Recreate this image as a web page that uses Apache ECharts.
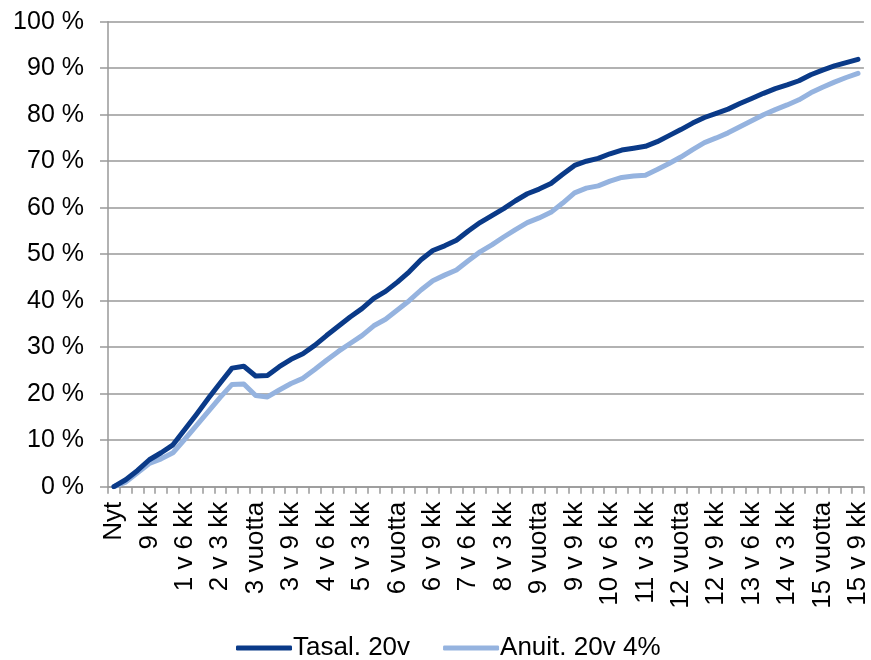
<!DOCTYPE html>
<html>
<head>
<meta charset="utf-8">
<script src="https://cdn.jsdelivr.net/npm/echarts@6/dist/echarts.min.js"></script>
<style>
html,body{margin:0;padding:0;background:#fff;}
#chart{width:871px;height:660px;}
</style>
</head>
<body>
<div id="chart"></div>
<script>
// Categories: quarterly from "Nyt" to "15 v 9 kk"
var categories = [];
(function(){
  for (var q = 0; q < 64; q++) {
    var y = Math.floor(q / 4), m = (q % 4) * 3, s;
    if (q === 0) s = 'Nyt';
    else if (y === 0) s = m + ' kk';
    else if (m === 0) s = (y === 1 ? '1 vuosi' : y + ' vuotta');
    else s = y + ' v ' + m + ' kk';
    categories.push(s);
  }
})();

var seriesNames = ['Tasal. 20v', 'Anuit. 20v 4%'];

var tasal = [0,1.5,3.5,5.8,7.3,9,12.3,15.6,19,22.3,25.5,25.9,23.8,23.9,25.8,27.4,
  28.6,30.4,32.5,34.5,36.5,38.3,40.5,42,44,46.2,48.8,50.8,51.8,53,55,56.8,
  58.3,59.8,61.5,63,64,65.2,67.2,69.1,70,70.6,71.6,72.4,72.8,73.2,74.2,75.5,
  76.8,78.2,79.4,80.3,81.2,82.4,83.5,84.6,85.6,86.4,87.3,88.6,89.6,90.5,91.2,91.9];

var anuit = [0,1,3,5,6,7.3,10.2,13.2,16.2,19.2,22,22.1,19.6,19.3,20.8,22.2,
  23.3,25.2,27.2,29.1,30.8,32.5,34.6,36,38,40,42.3,44.3,45.5,46.6,48.6,50.5,
  52,53.7,55.3,56.8,57.8,59,61,63.2,64.2,64.7,65.7,66.5,66.8,67,68.2,69.5,
  70.9,72.5,74,75,76.1,77.4,78.7,80,81.1,82.1,83.2,84.7,85.9,87,88,88.9];

var colors = ['#0A3A88', '#95B3DF'];
var FONT = 'Liberation Sans, Arial, sans-serif';

var chart = echarts.init(document.getElementById('chart'));
chart.setOption({
  animation: false,
  backgroundColor: '#fff',
  color: colors,
  grid: { left: 108, right: 7, top: 21.7, bottom: 173.3, containLabel: false },
  legend: {
    data: seriesNames,
    top: 635,
    left: 236,
    padding: 0,
    icon: 'roundRect',
    itemWidth: 56,
    itemHeight: 5,
    itemGap: 33,
    textStyle: { fontFamily: FONT, fontSize: 26, color: '#000', padding: [0,0,0,-4] }
  },
  xAxis: {
    type: 'category',
    data: categories,
    boundaryGap: true,
    axisLine: { lineStyle: { color: '#999', width: 1.5 } },
    axisTick: { show: true, interval: 0, length: 7, lineStyle: { color: '#999', width: 1.5 } },
    axisLabel: { interval: 2, rotate: 90, margin: 15, fontFamily: FONT, fontSize: 26, color: '#000' },
    splitLine: { show: false }
  },
  yAxis: {
    type: 'value',
    min: 0, max: 100, interval: 10,
    axisLine: { show: true, lineStyle: { color: '#999', width: 1.5 } },
    axisTick: { show: true, length: 8, lineStyle: { color: '#999', width: 1.5 } },
    axisLabel: { margin: 24, fontFamily: FONT, fontSize: 25, color: '#000', formatter: '{value} %' },
    splitLine: { show: true, lineStyle: { color: '#999', width: 1.5 } }
  },
  series: [
    { name: seriesNames[0], type: 'line', data: tasal, showSymbol: false, symbol: 'none',
      lineStyle: { width: 5, color: colors[0], cap: 'round', join: 'round' }, z: 3 },
    { name: seriesNames[1], type: 'line', data: anuit, showSymbol: false, symbol: 'none',
      lineStyle: { width: 5, color: colors[1], cap: 'round', join: 'round' }, z: 2 }
  ]
});
</script>
</body>
</html>
